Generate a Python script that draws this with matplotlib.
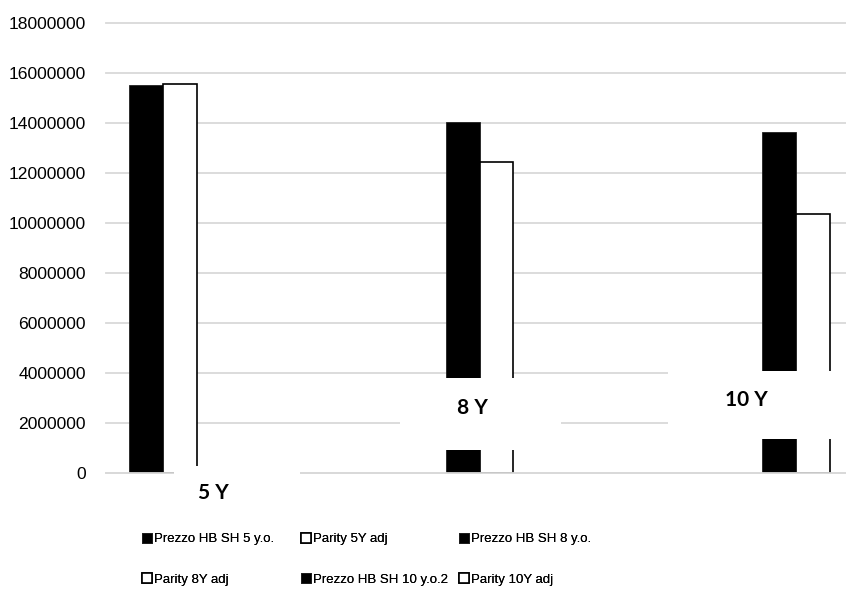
import numpy as np
import matplotlib
matplotlib.use("Agg")
import matplotlib.pyplot as plt
from matplotlib.patches import Rectangle

# age buckets on the category axis
categories = ["5 Y", "8 Y", "10 Y"]

# one series per column, each only filled in its own bucket
series_names = ["Prezzo HB SH 5 y.o.", "Parity 5Y adj",
                "Prezzo HB SH 8 y.o.", "Parity 8Y adj",
                "Prezzo HB SH 10 y.o.2", "Parity 10Y adj"]
prezzo_5y = [15520000, np.nan, np.nan]
parity_5y = [15570000, np.nan, np.nan]
prezzo_8y = [np.nan, 14030000, np.nan]
parity_8y = [np.nan, 12450000, np.nan]
prezzo_10y = [np.nan, np.nan, 13640000]
parity_10y = [np.nan, np.nan, 10370000]
series_values = [prezzo_5y, parity_5y, prezzo_8y, parity_8y, prezzo_10y, parity_10y]

yticks = np.arange(0, 18000001, 2000000)

sans = ["Liberation Sans", "DejaVu Sans"]

fig = plt.figure(figsize=(8.46, 5.95), dpi=100)
ax = fig.add_axes([106 / 846, 122 / 595, 747 / 846, 450 / 595])

x = np.arange(len(categories))
w = 0.1365
for j, (name, vals) in enumerate(zip(series_names, series_values)):
    filled = j % 2 == 0
    ax.bar(x + (j - 2.5) * w, vals, width=w,
           color="black" if filled else "white",
           edgecolor="#202020" if filled else "black",
           linewidth=0.6 if filled else 1.2,
           label=name, zorder=2)

ax.set_xlim(-0.5, 2.5)
ax.set_ylim(0, 18000000)
ax.set_yticks(yticks)
ax.set_yticklabels([str(v) for v in yticks], family=sans, fontsize=12.6)
ax.set_xticks([])
ax.tick_params(axis="y", length=0, pad=14.5)
for s in ax.spines.values():
    s.set_visible(False)
ax.grid(axis="y", color="#d9d9d9", linewidth=1.3, zorder=0)
for gl in ax.get_ygridlines():
    gl.set_clip_on(False)
ax.set_axisbelow(True)
# category axis line sits over the bar bottoms
ax.axhline(0, color="#d9d9d9", linewidth=1.3, zorder=3, clip_on=False)

# white text boxes with the bucket names, laid over bars and grid
boxes = [(-0.227, -1900000, 0.506, 2180000),
         (0.681, 920000, 0.646, 2880000),
         (1.757, 1360000, 1.0, 2720000)]
label_pos = [(-0.07, -800000), (0.97, 2600000), (2.07, 2920000)]
for cat, (bx, by, bw, bh), (tx, ty) in zip(categories, boxes, label_pos):
    ax.add_patch(Rectangle((bx, by), bw, bh, facecolor="white",
                           edgecolor="none", zorder=5, clip_on=False))
    ax.text(tx, ty, cat, ha="center", va="center", family="Lato",
            fontweight="bold", fontsize=15, zorder=6, clip_on=False)

# legend: three columns of two entries, filled row by row
handles, labels = ax.get_legend_handles_labels()
col_left = [142, 301, 459]
for c, left in enumerate(col_left):
    idx = [c, c + 3]
    leg = fig.legend([handles[i] for i in idx], [labels[i] for i in idx],
                     loc="upper left", bbox_to_anchor=(left / 846, 1 - 533 / 595),
                     frameon=False, prop={"family": sans, "size": 9.5},
                     handlelength=0.75, handleheight=0.75, handletextpad=0.15,
                     labelspacing=2.1, borderpad=0, borderaxespad=0)
    fig.add_artist(leg)

fig.savefig("out.png", dpi=100)
